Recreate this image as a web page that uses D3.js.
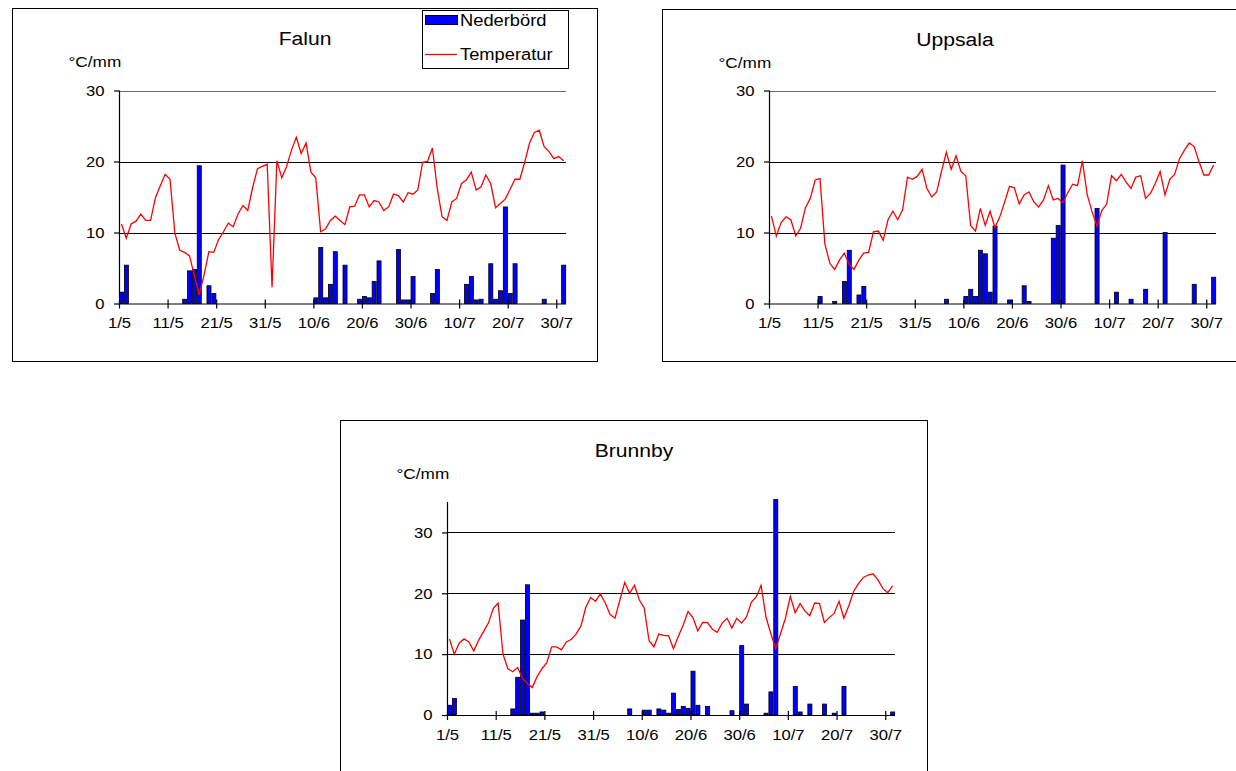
<!DOCTYPE html>
<html><head><meta charset="utf-8">
<script src="https://cdn.jsdelivr.net/npm/d3@7"></script>
<style>
html,body{margin:0;padding:0;background:#fff;}
svg{display:block;font-family:"Liberation Sans",Arial,Helvetica,sans-serif;}
</style></head>
<body>
<svg id="chart" width="1236" height="771"></svg>
<script>
// ---- Data (daily, 1/5 - 31/7) ----
const tickLabels = ["1/5","11/5","21/5","31/5","10/6","20/6","30/6","10/7","20/7","30/7"];
const tickIndex = [0,10,20,30,40,50,60,70,80,90];

const falunTemp = [11.2,9.2,11.2,11.6,12.6,11.7,11.7,14.9,16.6,18.2,
 17.5,9.9,7.5,7.2,6.7,4.0,1.2,4.0,7.3,7.2,
 9.0,10.1,11.3,10.8,12.6,13.8,13.1,16.3,19.0,19.3,
 19.6,2.3,20.1,17.7,19.3,21.6,23.4,21.1,22.6,18.5,
 17.7,10.1,10.5,11.7,12.3,11.7,11.1,13.6,13.7,15.3,
 15.3,13.6,14.5,14.3,13.1,13.6,15.4,15.2,14.3,15.6,
 15.4,16.0,19.9,20.0,21.9,16.2,12.2,11.7,14.3,14.8,
 16.9,17.4,18.5,16.0,16.4,18.1,16.9,13.5,14.1,14.7,
 16.1,17.5,17.5,19.9,22.6,24.1,24.4,22.1,21.4,20.4,
 20.7,20.1];
const falunPrec = [1.6,5.4,0,0,0,0,0,0,0,0,
 0,0,0,0.6,4.6,4.8,19.4,0,2.5,1.4,
 0,0,0,0,0,0,0,0,0,0,
 0,0,0,0,0,0,0,0,0,0,
 0.8,7.9,0.8,2.7,7.3,0,5.4,0,0,0.6,
 1.0,0.8,3.1,6.0,0,0,0,7.6,0.5,0.5,
 3.8,0,0,0,1.4,4.8,0,0,0,0,
 0,2.7,3.8,0.5,0.6,0,5.6,0.6,1.8,13.6,
 1.4,5.6,0,0,0,0,0,0.6,0,0,
 0,5.4];

const uppsalaTemp = [12.3,9.5,11.4,12.2,11.8,9.5,10.6,13.5,14.8,17.4,
 17.6,8.4,5.7,4.8,6.1,7.1,5.5,4.8,6.1,7.1,
 7.2,10.1,10.2,8.9,11.8,13.0,11.8,13.2,17.8,17.5,
 17.9,18.9,16.2,15.0,15.7,18.6,21.3,18.9,20.8,18.6,
 18.0,11.0,10.2,13.4,11.0,13.0,10.7,12.2,14.3,16.5,
 16.3,14.0,15.3,15.7,14.3,13.6,14.6,16.6,14.6,14.8,
 14.2,15.6,16.8,16.6,20.1,15.3,12.9,10.9,13.1,14.0,
 18.0,17.3,18.2,17.1,16.2,17.8,18.0,14.8,15.5,16.9,
 18.6,15.3,17.5,18.2,20.4,21.6,22.6,22.1,20.0,18.1,
 18.1,19.5];
const uppsalaPrec = [0,0,0,0,0,0,0,0,0,0,
 1.0,0,0,0.3,0,3.1,7.5,0,1.2,2.4,
 0,0,0,0,0,0,0,0,0,0,
 0,0,0,0,0,0,0.6,0,0,0,
 1.0,2.0,1.0,7.5,7.0,1.6,10.9,0,0,0.5,
 0,0,2.5,0.3,0,0,0,0,9.2,11.0,
 19.5,0,0,0,0,0,0,13.4,0,0,
 0,1.6,0,0,0.6,0,0,2.0,0,0,
 0,10.0,0,0,0,0,0,2.7,0,0,
 0,3.7];

const brunnbyTemp = [12.5,10.0,11.8,12.5,12.0,10.5,12.3,13.7,15.1,17.5,
 18.4,10.0,7.6,7.1,7.8,6.0,5.2,4.5,6.3,7.6,
 8.6,11.2,11.2,10.7,12.0,12.4,13.3,14.6,17.7,19.3,
 18.7,19.9,18.4,16.5,15.9,18.9,21.8,20.0,21.3,18.9,
 17.6,12.2,11.2,13.3,13.1,13.0,10.9,12.9,14.8,17.0,
 16.0,13.8,15.2,15.2,14.1,13.6,15.1,15.9,14.3,15.9,
 15.1,16.1,18.5,19.4,21.3,16.1,13.4,10.9,13.4,15.9,
 19.5,16.8,18.3,17.1,16.3,18.4,18.3,15.2,16.0,16.7,
 18.7,15.9,17.9,20.3,21.6,22.6,23.0,23.2,22.2,20.8,
 20.1,21.2];
const brunnbyPrec = [1.6,2.7,0,0,0,0,0,0,0,0,
 0,0,0,1.0,6.2,15.6,21.4,0.3,0.3,0.5,
 0,0,0,0,0,0,0,0,0,0,
 0,0,0,0,0,0,0,1.0,0,0,
 0.8,0.8,0,1.0,0.8,0.3,3.6,0.9,1.4,1.1,
 7.2,1.6,0,1.4,0,0,0,0,0.7,0,
 11.4,1.8,0,0,0,0.3,3.8,35.4,0,0,
 0,4.7,0.5,0,1.8,0,0,1.8,0,0.3,
 0,4.7,0,0,0,0,0,0,0,0,
 0,0.5];

const seriesNames = ["Nederbörd","Temperatur"];
const unitLabel = "°C/mm";

// ---- Layout ----
const SX = 1.11; // horizontal stretch of the original chart's text
const panels = [
 {title:"Falun", temp:falunTemp, prec:falunPrec, box:[12.5,8.5,585,353],
  x0:119, x1:566, yTop:90.5, yBot:303.5, ymax:30, yTicks:[0,10,20,30], grid:[10,20,30], legend:true},
 {title:"Uppsala", temp:uppsalaTemp, prec:uppsalaPrec, box:[662.5,9.5,585,352],
  x0:769, x1:1216, yTop:90.5, yBot:303.5, ymax:30, yTicks:[0,10,20,30], grid:[10,20,30], legend:false},
 {title:"Brunnby", temp:brunnbyTemp, prec:brunnbyPrec, box:[340.5,420.5,587,380],
  x0:447, x1:895, yTop:502, yBot:715, ymax:35, yTicks:[0,10,20,30], grid:[10,20,30], legend:false}
];

const svg = d3.select("#chart");

function stretchedText(sel, x, y, txt, size, anchor) {
  return sel.append("text")
    .attr("transform", `translate(${x},${y}) scale(${SX},1)`)
    .attr("text-anchor", anchor || "start")
    .attr("font-size", size).attr("fill", "#000").text(txt);
}

panels.forEach(p => {
  const g = svg.append("g");
  const [bx,by,bw,bh] = p.box;
  g.append("rect").attr("x",bx).attr("y",by).attr("width",bw).attr("height",bh)
   .attr("fill","#fff").attr("stroke","#000").attr("stroke-width",1);

  const n = p.temp.length;
  const xb = d3.scaleBand().domain(d3.range(n)).range([p.x0,p.x1]).padding(0);
  const xl = d3.scaleLinear().domain([0,n]).range([p.x0,p.x1]);
  const y = d3.scaleLinear().domain([0,p.ymax]).range([p.yBot,p.yTop]);

  // title & unit
  stretchedText(g, bx+bw/2 + (p.title==="Uppsala"?0:0), by+36, p.title, 19, "middle");
  stretchedText(g, bx+56, by+58, unitLabel, 15.5, "start");

  // gridlines
  g.selectAll("line.grid").data(p.grid).join("line")
   .attr("x1",p.x0).attr("x2",p.x1)
   .attr("y1",d=>Math.round(y(d))+0.5).attr("y2",d=>Math.round(y(d))+0.5)
   .attr("stroke",d=> (p.ymax===30 && d===30) ? "#6a6a6a" : "#000")
   .attr("stroke-width",1);

  // bars
  const bwid = xb.bandwidth();
  g.selectAll("rect.bar").data(p.prec.map((v,i)=>({v,i})).filter(d=>d.v>0)).join("rect")
   .attr("x",d=>xb(d.i)+0.5).attr("width",bwid-0.8)
   .attr("y",d=>y(d.v)).attr("height",d=>y(0)-y(d.v))
   .attr("fill","#0000FF").attr("stroke","#000").attr("stroke-width",0.8);

  // temperature line
  const line = d3.line().x((d,i)=>xb(i)+bwid/2).y(d=>y(d));
  g.append("path").datum(p.temp).attr("d",line)
   .attr("fill","none").attr("stroke","#FF0000").attr("stroke-width",1.3)
   .attr("stroke-linejoin","miter");

  // x axis
  const xAxis = d3.axisBottom(xl).tickValues(tickIndex)
    .tickFormat((d,i)=>tickLabels[i]).tickSize(5).tickSizeOuter(0).tickPadding(9);
  const ga = g.append("g").attr("transform",`translate(0,${p.yBot})`).call(xAxis);
  ga.select(".domain").attr("stroke","#000").attr("d",`M${p.x0},0.5H${p.x1}`).attr("stroke-width",1.2);
  ga.selectAll(".tick line").attr("y1",-4).attr("y2",5).attr("stroke","#000").attr("stroke-width",1.2);
  ga.selectAll(".tick text").attr("font-size",15).attr("font-family","Liberation Sans, Arial, sans-serif")
    .attr("fill","#000").attr("transform",`scale(${SX},1)`);

  // y axis
  const yAxis = d3.axisLeft(y).tickValues(p.yTicks).tickSize(5).tickSizeOuter(0).tickPadding(9);
  const gy = g.append("g").attr("transform",`translate(${p.x0},0)`).call(yAxis);
  gy.select(".domain").attr("stroke","#000").attr("d",`M0.5,${p.yBot}V${p.yTop}`).attr("stroke-width",1.2);
  gy.selectAll(".tick line").attr("stroke","#000").attr("stroke-width",1.2);
  gy.selectAll(".tick text").attr("font-size",15).attr("font-family","Liberation Sans, Arial, sans-serif")
    .attr("fill","#000").attr("x",-13).attr("transform",`scale(${SX},1)`);

  // legend
  if (p.legend) {
    const lg = g.append("g");
    lg.append("rect").attr("x",422.5).attr("y",10.5).attr("width",146).attr("height",58)
      .attr("fill","#fff").attr("stroke","#000").attr("stroke-width",1);
    lg.append("rect").attr("x",425.5).attr("y",15.5).attr("width",32).attr("height",9)
      .attr("fill","#0000FF").attr("stroke","#000").attr("stroke-width",1);
    stretchedText(lg, 460, 26, seriesNames[0], 16.5, "start");
    lg.append("line").attr("x1",425).attr("x2",457).attr("y1",54.5).attr("y2",54.5)
      .attr("stroke","#FF0000").attr("stroke-width",1.3);
    stretchedText(lg, 460, 60, seriesNames[1], 16.5, "start");
  }
});
</script>
</body></html>
